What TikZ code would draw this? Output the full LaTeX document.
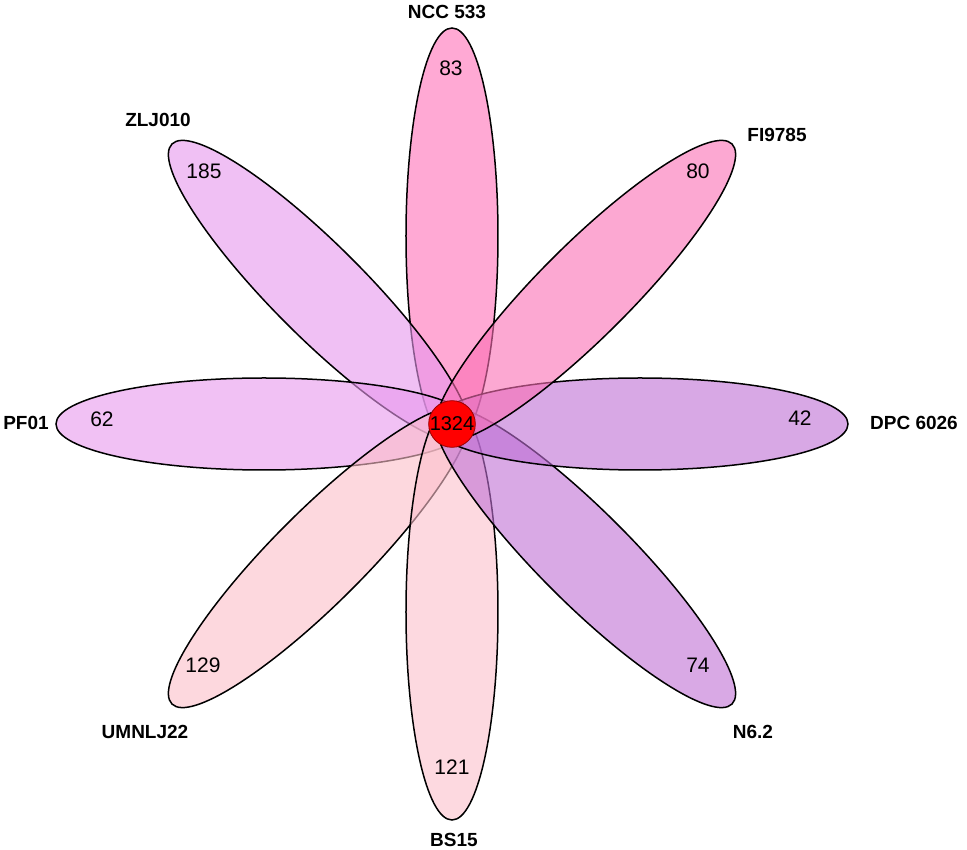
\documentclass[tikz,border=0pt]{standalone}
\definecolor{ncc_color}{RGB}{255, 113, 184}
\definecolor{fi_color}{RGB}{250, 110, 180}
\definecolor{zlj_color}{RGB}{230, 150, 238}
\definecolor{pf_color}{RGB}{232, 152, 238}
\definecolor{um_color}{RGB}{252, 190, 200}
\definecolor{bs_color}{RGB}{252, 192, 204}
\definecolor{n_color}{RGB}{192, 113, 213}
\definecolor{dpc_color}{RGB}{190, 110, 213}
\usepackage{fontspec}
\setmainfont{Liberation Sans}
\usepackage{tikz}

\begin{document}
\begin{tikzpicture}[x=1pt, y=1pt,
    petal/.style={draw=black, line width=1.5pt, fill opacity=0.6},
    strain/.style={font=\fontsize{19}{19}\selectfont\bfseries},
    count/.style={font=\fontsize{21}{21}\selectfont}]
        \useasboundingbox (-452,-426) rectangle (515,424);
        \fill[white] (-452,-426) rectangle (515,424);
        \draw[petal, fill=ncc_color, rotate=90] (188,0) ellipse (208 and 46);
        \draw[petal, fill=zlj_color, rotate=135] (188,0) ellipse (208 and 46);
        \draw[petal, fill=pf_color, rotate=180] (188,0) ellipse (208 and 46);
        \draw[petal, fill=um_color, rotate=225] (188,0) ellipse (208 and 46);
        \draw[petal, fill=bs_color, rotate=270] (188,0) ellipse (208 and 46);
        \draw[petal, fill=n_color, rotate=315] (188,0) ellipse (208 and 46);
        \draw[petal, fill=dpc_color, rotate=0] (188,0) ellipse (208 and 46);
        \draw[petal, fill=fi_color, rotate=45] (188,0) ellipse (208 and 46);
        \node[circle, fill=red, draw=red!60!black, line width=0.8pt, minimum size=46pt, inner sep=0pt, font=\fontsize{20}{20}\selectfont] (core) at (0,0) {1324};
        \node[count] (ncc_n) at (-1,356) {83};
        \node[count] (zlj_n) at (-248,253) {185};
        \node[count] (pf_n) at (-350,5) {62};
        \node[count] (um_n) at (-249,-241) {129};
        \node[count] (bs_n) at (0,-343) {121};
        \node[count] (n_n) at (246,-241) {74};
        \node[count] (dpc_n) at (348,6) {42};
        \node[count] (fi_n) at (246,253) {80};
        \node[strain] (ncc) at (-5,412) {NCC 533};
        \node[strain] (zlj) at (-294,304) {ZLJ010};
        \node[strain] (pf) at (-426,1) {PF01};
        \node[strain] (um) at (-307,-308) {UMNLJ22};
        \node[strain] (bs) at (2,-416) {BS15};
        \node[strain] (n) at (301,-308) {N6.2};
        \node[strain] (dpc) at (462,1) {DPC 6026};
        \node[strain] (fi) at (325,289) {FI9785};
      \end{tikzpicture}
\end{document}
